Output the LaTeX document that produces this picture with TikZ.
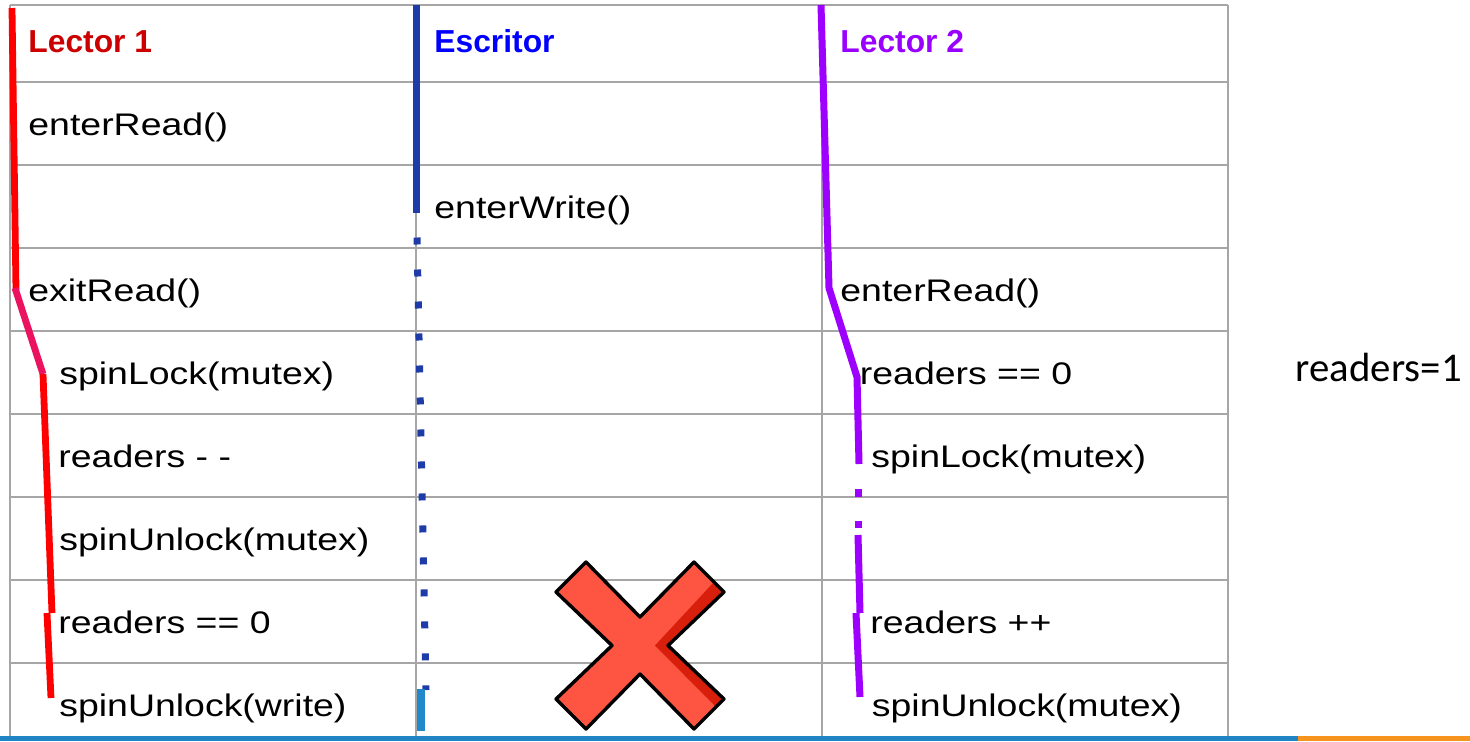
\documentclass[tikz,border=0pt]{standalone}
\usepackage{fontspec}
\setmainfont{Liberation Sans}
\newfontfamily\txtfont[FakeStretch=1.2]{Liberation Sans}
\newfontfamily\hdrfont{Liberation Sans}
\newfontfamily\calfont{Carlito}
\definecolor{gridgray}{HTML}{A6A6A6}
\definecolor{hdrred}{HTML}{CC0000}
\definecolor{hdrblue}{HTML}{0000FF}
\definecolor{hdrpurple}{HTML}{9900FF}
\definecolor{lred}{HTML}{FF0000}
\definecolor{lpink}{HTML}{EB1260}
\definecolor{lblue}{HTML}{1F3BA8}
\definecolor{lblueb}{HTML}{2188C9}
\definecolor{lpurple}{HTML}{9D00FF}
\definecolor{xred}{HTML}{FD5541}
\definecolor{xdark}{HTML}{D81F0B}
\definecolor{barblue}{HTML}{2185C5}
\definecolor{barorange}{HTML}{F7941D}
\begin{document}
\begin{tikzpicture}[x=0.5pt,y=-0.5pt,
  txt/.style={anchor=base west, inner sep=0pt, font=\txtfont\fontsize{15.6pt}{18pt}\selectfont},
  hdr/.style={anchor=base west, inner sep=0pt, font=\hdrfont\bfseries\fontsize{15.9pt}{18pt}\selectfont},
  gridline/.style={draw=gridgray, line width=1pt},
  life/.style={line width=3.4pt},
  dotline/.style={line width=3.5pt, dash pattern=on 3.5pt off 12.5pt},
]
\useasboundingbox (0,0) rectangle (1470,741);
\fill[white] (0,0) rectangle (1470,741);
% grid
\foreach \y in {5,82,165,248,331,414,497,580,663}
  \draw[gridline] (10,\y) -- (1228,\y);
\foreach \x in {10,416,822,1228}
  \draw[gridline] (\x,5) -- (\x,741);
% bottom bar
\fill[barblue] (0,736) rectangle (1298,741);
\fill[barorange] (1298,736) rectangle (1470,741);
% lifeline Lector 1
\draw[life, lred] (12,8) -- (16,290);
\draw[life, lpink] (15,288) -- (43,374);
\draw[life, lred] (43,374) -- (52,613);
\draw[life, lred] (47,613) -- (51,698);
% lifeline Escritor
\draw[life, line width=3.5pt, lblue] (416,5) -- (416,213);
\draw[dotline, lblue] (417,237.5) -- (426,690);
\draw[line width=4pt, lblueb] (421,689) -- (421,731);
% lifeline Lector 2
\draw[life, line width=3.5pt, lpurple] (821,5) -- (829,288) -- (857,377) -- (859,464);
\draw[life, line width=3.5pt, lpurple] (858,489) -- (858,497);
\draw[life, line width=3.5pt, lpurple] (858,521) -- (858,528);
\draw[life, line width=3.5pt, lpurple] (858,535) -- (860,613);
\draw[life, line width=3.5pt, lpurple] (856,613) -- (860,697);
% headers
\node[hdr, text=hdrred] (h1) at (28,52) {Lector 1};
\node[hdr, text=hdrblue] (h2) at (434,52) {Escritor};
\node[hdr, text=hdrpurple] (h3) at (840,52) {Lector 2};
% column 1
\node[txt] (a1) at (28,135.5) {enterRead()};
\node[txt] (a2) at (28,301.5) {exitRead()};
\node[txt] (a3) at (59,384.5) {spinLock(mutex)};
\node[txt] (a4) at (58,467.5) {readers - -};
\node[txt] (a5) at (59,550.5) {spinUnlock(mutex)};
\node[txt] (a6) at (58,633.5) {readers == 0};
\node[txt] (a7) at (59,716.5) {spinUnlock(write)};
% column 2
\node[txt] (b1) at (434,218.5) {enterWrite()};
% column 3
\node[txt] (c1) at (840,301.5) {enterRead()};
\node[txt] (c2) at (859.5,384.5) {readers == 0};
\node[txt] (c3) at (871,467.5) {spinLock(mutex)};
\node[txt] (c4) at (870,633.5) {readers ++};
\node[txt] (c5) at (871.5,716.5) {spinUnlock(mutex)};
% side note
\node[anchor=base west, inner sep=0pt, font=\calfont\fontsize{20.4pt}{23pt}\selectfont] (note) at (1295.5,381.7) {readers=1};
% X mark
\begin{scope}[shift={(640,645.5)}]
\fill[xred] (-54,-83.5) -- (0,-28.5) -- (54,-83.5) -- (84,-53.5) -- (28,0) -- (84,53.5) -- (54,83.5) -- (0,28.5) -- (-54,83.5) -- (-84,53.5) -- (-28,0) -- (-84,-53.5) -- cycle;
\fill[xdark] (73,-62.5) -- (84,-53.5) -- (28,0) -- (84,53.5) -- (75,60.5) -- (15,0) -- cycle;
\draw[black, line width=1.7pt, line join=round] (-54,-83.5) -- (0,-28.5) -- (54,-83.5) -- (84,-53.5) -- (28,0) -- (84,53.5) -- (54,83.5) -- (0,28.5) -- (-54,83.5) -- (-84,53.5) -- (-28,0) -- (-84,-53.5) -- cycle;
\end{scope}
\end{tikzpicture}
\end{document}
